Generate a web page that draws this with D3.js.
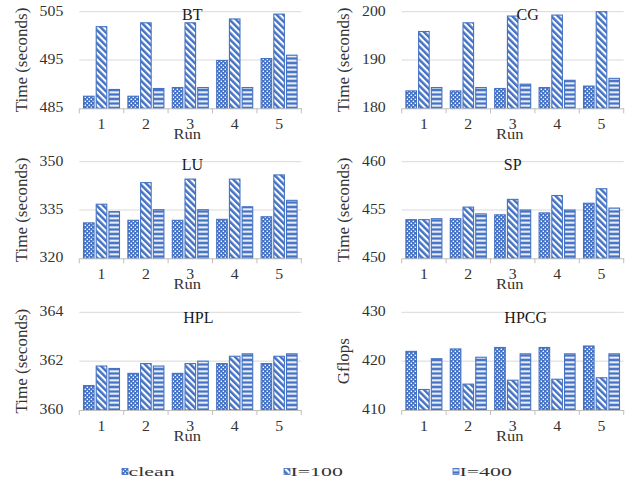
<!DOCTYPE html>
<html>
<head>
<meta charset="utf-8">
<script src="https://cdn.jsdelivr.net/npm/d3@7"></script>
<style>
  html, body { margin: 0; padding: 0; background: #fff; }
  svg { display: block; }
  text { font-family: "Liberation Serif", "Times New Roman", serif; }
</style>
</head>
<body>
<svg id="chart" width="627" height="486"></svg>
<script>
// Categories and series
const runs = ["1", "2", "3", "4", "5"];
const seriesNames = ["clean", "I=100", "I=400"];

// BT (seconds)
const btClean = [487.5, 487.5, 489.3, 494.9, 495.3];
const btI100  = [501.9, 502.7, 502.7, 503.5, 504.5];
const btI400  = [488.9, 489.1, 489.3, 489.3, 496.0];
const btTicks = [485, 495, 505];

// CG (seconds)
const cgClean = [183.6, 183.6, 184.1, 184.3, 184.6];
const cgI100  = [195.9, 197.7, 199.1, 199.3, 200.0];
const cgI400  = [184.3, 184.3, 185.0, 185.8, 186.2];
const cgTicks = [180, 190, 200];

// LU (seconds)
const luClean = [331.0, 331.8, 331.8, 332.1, 332.9];
const luI100  = [336.8, 343.5, 344.6, 344.6, 345.9];
const luI400  = [334.5, 335.1, 335.1, 336.0, 338.0];
const luTicks = [320, 335, 350];

// SP (seconds)
const spClean = [454.0, 454.1, 454.5, 454.7, 455.7];
const spI100  = [454.0, 455.3, 456.1, 456.5, 457.2];
const spI400  = [454.1, 454.6, 455.0, 455.0, 455.2];
const spTicks = [450, 455, 460];

// HPL (seconds)
const hplClean = [361.0, 361.5, 361.5, 361.9, 361.9];
const hplI100  = [361.8, 361.9, 361.9, 362.2, 362.2];
const hplI400  = [361.7, 361.8, 362.0, 362.3, 362.3];
const hplTicks = [360, 362, 364];

// HPCG (Gflops)
const hpcgClean = [422.0, 422.5, 422.8, 422.8, 423.1];
const hpcgI100  = [414.2, 415.3, 416.1, 416.3, 416.6];
const hpcgI400  = [420.5, 420.8, 421.5, 421.5, 421.5];
const hpcgTicks = [410, 420, 430];

const panels = [
  { title: "BT",   yTitle: "Time (seconds)", series: [btClean, btI100, btI400],       ticks: btTicks,   col: 0, row: 0, titleDx: 2 },
  { title: "CG",   yTitle: "Time (seconds)", series: [cgClean, cgI100, cgI400],       ticks: cgTicks,   col: 1, row: 0, titleDx: 15 },
  { title: "LU",   yTitle: "Time (seconds)", series: [luClean, luI100, luI400],       ticks: luTicks,   col: 0, row: 1, titleDx: 2 },
  { title: "SP",   yTitle: "Time (seconds)", series: [spClean, spI100, spI400],       ticks: spTicks,   col: 1, row: 1, titleDx: 0 },
  { title: "HPL",  yTitle: "Time (seconds)", series: [hplClean, hplI100, hplI400],    ticks: hplTicks,  col: 0, row: 2, titleDx: 8 },
  { title: "HPCG", yTitle: "Gflops",         series: [hpcgClean, hpcgI100, hpcgI400], ticks: hpcgTicks, col: 1, row: 2, titleDx: 13 }
];

// Layout
const colX = [79.3, 401.7];
const plotW = 222;
const rowTop = [11.7, 161.7, 312.3];
const rowBottom = [108.3, 258.3, 410];
const blue = "#4472C4";
const gridColor = "#d9d9d9";
const axisColor = "#bfbfbf";
const textColor = "#333333";

const svg = d3.select("#chart");
const defs = svg.append("defs");

// Fill patterns for the three series
const pClean = defs.append("pattern").attr("id", "pat0")
  .attr("patternUnits", "userSpaceOnUse").attr("width", 4).attr("height", 4);
pClean.append("rect").attr("width", 4).attr("height", 4).attr("fill", blue);
pClean.append("rect").attr("x", 0.6).attr("y", 0.6).attr("width", 1.4).attr("height", 1.4).attr("fill", "#fff");
pClean.append("rect").attr("x", 2.6).attr("y", 2.6).attr("width", 1.4).attr("height", 1.4).attr("fill", "#fff");

const pDiag = defs.append("pattern").attr("id", "pat1")
  .attr("patternUnits", "userSpaceOnUse").attr("width", 4.6).attr("height", 4.6)
  .attr("patternTransform", "rotate(45)");
pDiag.append("rect").attr("width", 4.6).attr("height", 4.6).attr("fill", blue);
pDiag.append("rect").attr("y", 0).attr("width", 4.6).attr("height", 2.1).attr("fill", "#fff");

const pHoriz = defs.append("pattern").attr("id", "pat2")
  .attr("patternUnits", "userSpaceOnUse").attr("width", 4.5).attr("height", 4.5);
pHoriz.append("rect").attr("width", 4.5).attr("height", 4.5).attr("fill", blue);
pHoriz.append("rect").attr("y", 1.3).attr("width", 4.5).attr("height", 1.9).attr("fill", "#fff");

const fills = ["url(#pat0)", "url(#pat1)", "url(#pat2)"];

panels.forEach(p => {
  const x0 = colX[p.col];
  const top = rowTop[p.row];
  const bottom = rowBottom[p.row];
  const g = svg.append("g");

  const x = d3.scaleBand().domain(runs).range([x0, x0 + plotW]).paddingInner(0).paddingOuter(0);
  const xs = d3.scaleBand().domain(seriesNames).range([4.2, x.bandwidth() - 4.2]).paddingInner(0.17);
  const y = d3.scaleLinear().domain([p.ticks[0], p.ticks[p.ticks.length - 1]]).range([bottom, top]);

  // Gridlines
  g.selectAll("line.grid").data(p.ticks.slice(1)).join("line")
    .attr("x1", x0).attr("x2", x0 + plotW)
    .attr("y1", d => y(d)).attr("y2", d => y(d))
    .attr("stroke", gridColor).attr("stroke-width", 1);

  // Bars
  seriesNames.forEach((s, si) => {
    g.selectAll(null).data(p.series[si].map((v, i) => ({ run: runs[i], v }))).join("rect")
      .attr("x", d => x(d.run) + xs(s))
      .attr("width", xs.bandwidth())
      .attr("y", d => y(d.v))
      .attr("height", d => y(p.ticks[0]) - y(d.v))
      .attr("fill", fills[si])
      .attr("stroke", blue).attr("stroke-width", 1.1);
  });

  // Category axis
  const xAxis = d3.axisBottom(x).tickSize(0).tickPadding(0);
  const ax = g.append("g").attr("transform", `translate(0,${bottom})`).call(xAxis);
  ax.select(".domain").attr("stroke", axisColor);
  ax.selectAll(".tick text").remove();
  // Tick marks at category boundaries
  const bounds = runs.map(r => x(r)).concat([x0 + plotW]);
  g.selectAll(null).data(bounds).join("line")
    .attr("x1", d => d).attr("x2", d => d)
    .attr("y1", bottom).attr("y2", bottom + 5)
    .attr("stroke", axisColor);
  // Category labels
  g.selectAll(null).data(runs).join("text")
    .attr("transform", d => `translate(${x(d) + x.bandwidth() / 2},${bottom + 21})scale(1.13,1)`)
    .attr("text-anchor", "middle").attr("font-size", 14).attr("fill", textColor)
    .text(d => d);

  // Value axis labels
  g.selectAll(null).data(p.ticks).join("text")
    .attr("transform", d => `translate(${x0 - 16},${y(d) + 4})scale(1.13,1)`)
    .attr("text-anchor", "end").attr("font-size", 14).attr("fill", textColor)
    .text(d => d);

  // Axis titles
  g.append("text")
    .attr("transform", `translate(${x0 + plotW / 2 - 3},${bottom + 30.5})scale(1.1,1)`)
    .attr("text-anchor", "middle").attr("font-size", 15).attr("fill", textColor)
    .text("Run");
  g.append("text")
    .attr("transform", `translate(${x0 - 52.5},${(top + bottom) / 2})rotate(-90)`)
    .attr("text-anchor", "middle").attr("font-size", 17).attr("fill", textColor)
    .text(p.yTitle);

  // Panel title
  g.append("text")
    .attr("x", x0 + plotW / 2 + p.titleDx).attr("y", top + 8.5 + (p.row === 2 ? 2 : 0))
    .attr("text-anchor", "middle").attr("font-size", 16).attr("fill", "#1a1a1a")
    .text(p.title);
});

// Legend
const legendX = [122, 284, 453];
const legend = svg.append("g");
seriesNames.forEach((s, i) => {
  legend.append("rect")
    .attr("x", legendX[i]).attr("y", 468.5).attr("width", 6).attr("height", 6)
    .attr("fill", fills[i]).attr("stroke", blue).attr("stroke-width", 0.8);
  legend.append("text")
    .attr("transform", `translate(${legendX[i] + 6.5},${476})scale(1.68,1)`)
    .attr("font-size", 13).attr("fill", textColor)
    .text(s);
});
</script>
</body>
</html>
